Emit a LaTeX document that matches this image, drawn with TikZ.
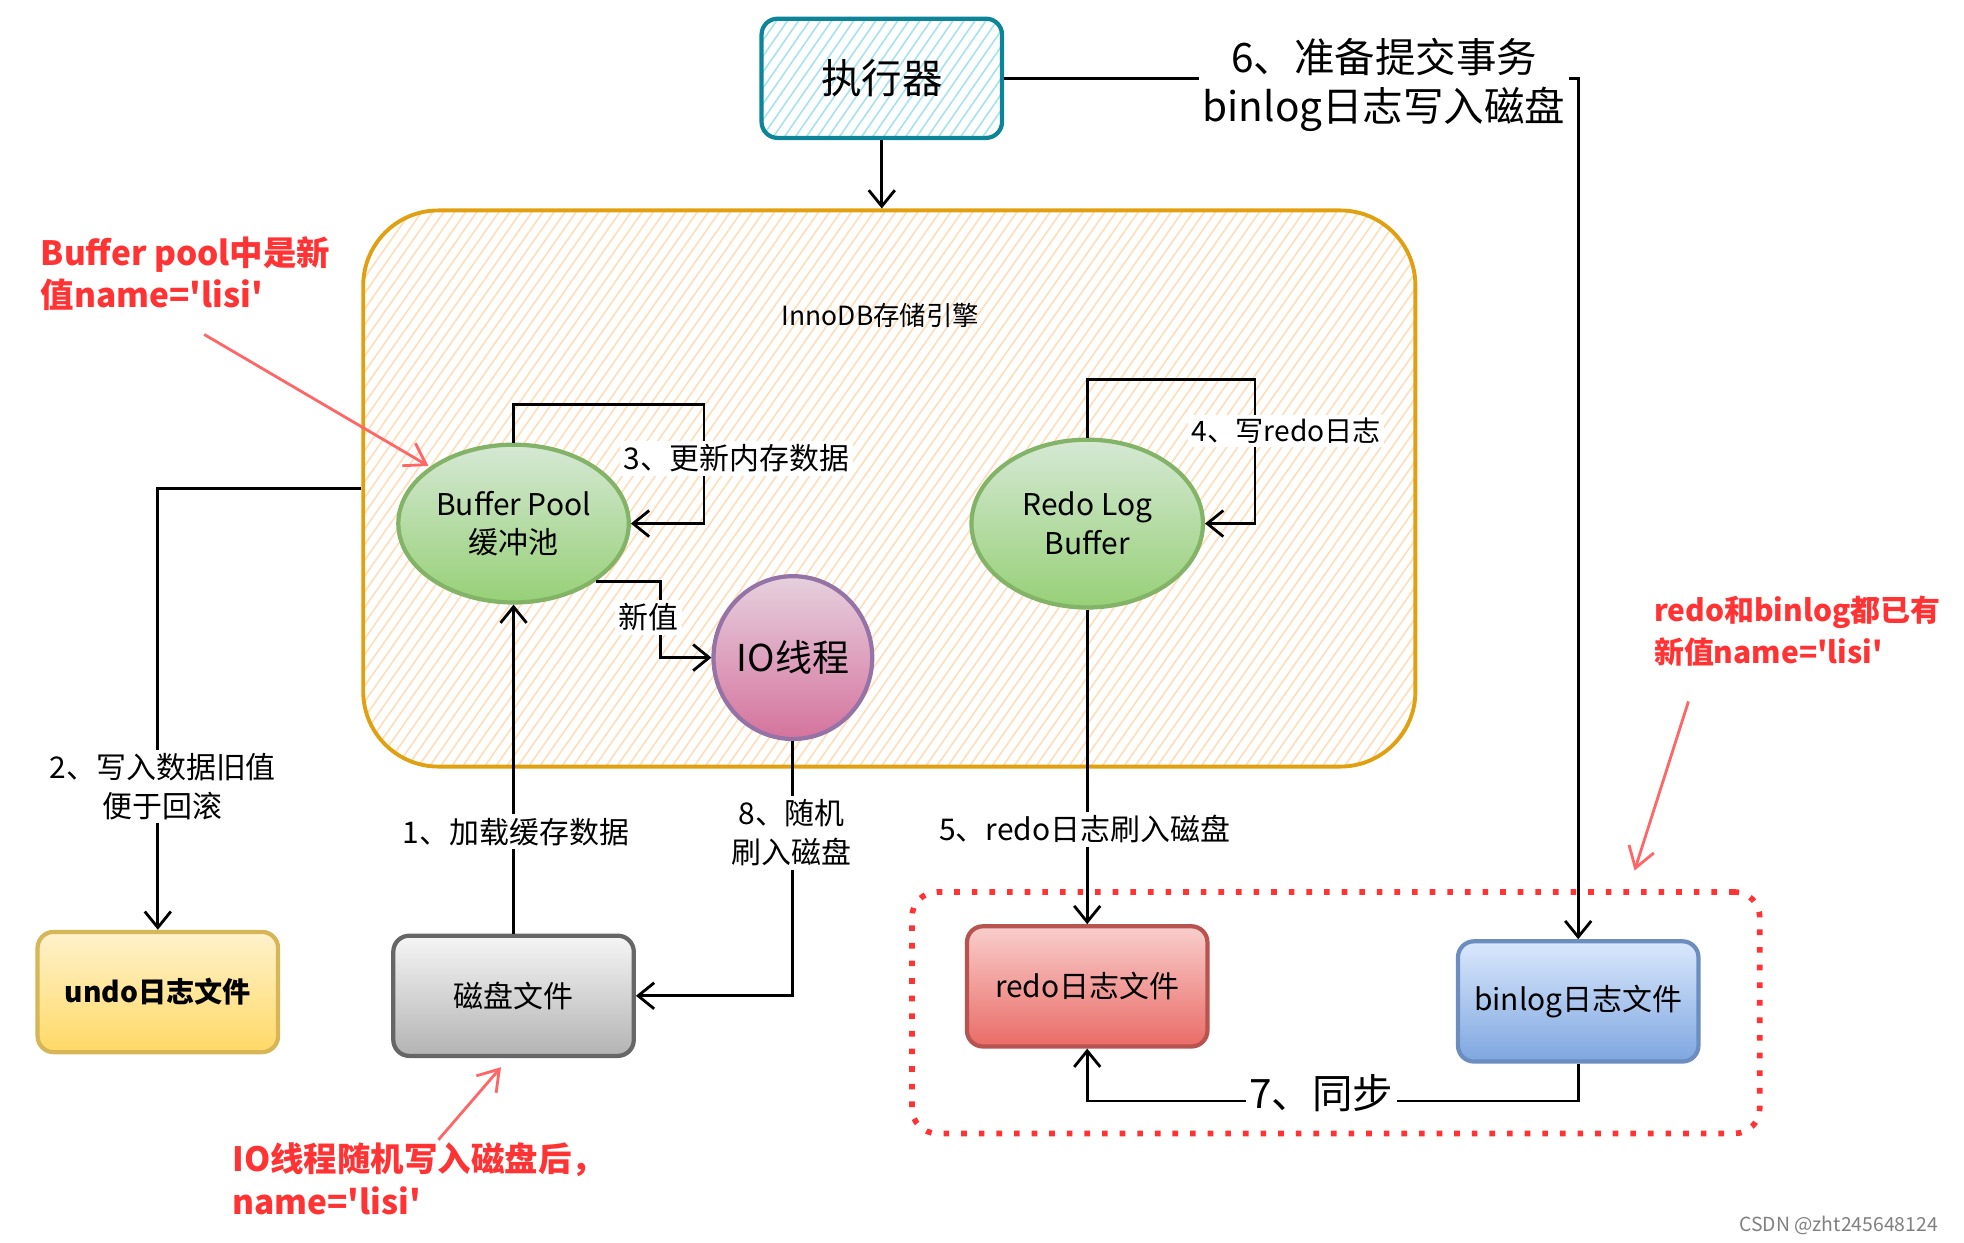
\documentclass[tikz,border=0pt]{standalone}
\usepackage{fontspec}
\setmainfont{Noto Sans CJK SC}
\newfontfamily\qfont{Noto Sans CJK SC}[Ligatures=TeXOff]
\usetikzlibrary{arrows.meta,calc,shapes.geometric}
\newcommand{\myfs}[2]{\fontsize{#1}{#2}\selectfont}
\newcommand{\sq}{{\qfont\char"27}}
\definecolor{teal1}{HTML}{0C8599}
\definecolor{hatchcyan}{HTML}{A5E3EC}
\definecolor{inborder}{HTML}{E0A010}
\definecolor{hatchor}{HTML}{FFDDB8}
\definecolor{grnT}{HTML}{D5E8D4}
\definecolor{grnB}{HTML}{97D077}
\definecolor{grnD}{HTML}{82B366}
\definecolor{pinkT}{HTML}{E6D0DE}
\definecolor{pinkB}{HTML}{D5739D}
\definecolor{pinkD}{HTML}{9673A6}
\definecolor{yelT}{HTML}{FFF2CC}
\definecolor{yelB}{HTML}{FFD966}
\definecolor{yelD}{HTML}{D6B656}
\definecolor{gryT}{HTML}{F5F5F5}
\definecolor{gryB}{HTML}{B3B3B3}
\definecolor{gryD}{HTML}{666666}
\definecolor{redT}{HTML}{F8CECC}
\definecolor{redB}{HTML}{EA6B66}
\definecolor{redD}{HTML}{B85450}
\definecolor{bluT}{HTML}{DAE8FC}
\definecolor{bluB}{HTML}{7EA6E0}
\definecolor{bluD}{HTML}{6C8EBF}
\definecolor{annot}{HTML}{FF3333}
\definecolor{annarr}{HTML}{FF6666}
\tikzset{
  box/.style={rectangle, rounded corners=1.6mm, minimum width=24mm, minimum height=12mm, line width=1.2pt, font=\myfs{8.5}{11}},
  ell/.style={ellipse, line width=1.2pt, font=\myfs{8.5}{11}, align=center, inner sep=0pt},
  con/.style={draw=black, line width=0.8pt},
  arr/.style={con, -{Straight Barb[length=1.6mm,width=2.6mm]}},
  lbl/.style={fill=white, inner sep=1pt, font=\myfs{8.5}{11}, align=center},
  ann/.style={text=annot, font=\bfseries\myfs{9.5}{12}, align=left, inner sep=0pt},
  annarrow/.style={draw=annarr, line width=0.8pt, -{Straight Barb[length=2mm,width=2.6mm]}},
  hatchexe/.style={path picture={\foreach \i in {-12,...,24} \draw[hatchcyan, line width=0.45pt] ($(path picture bounding box.south west)+(\i*1.1mm,0)$) -- ++(9mm,13mm);}},
  hatchinno/.style={path picture={\foreach \i in {-38,...,98} \draw[hatchor, line width=0.45pt] ($(path picture bounding box.south west)+(\i*1.1mm,0)$) -- ++(40mm,57mm);}}
}
\begin{document}
\begin{tikzpicture}[x=0.125mm,y=-0.125mm]
\useasboundingbox (0,0) rectangle (1568,992);

% containers
\node[draw=inborder, line width=1.1pt, rounded corners=7.5mm, minimum width=105mm, minimum height=55.5mm, hatchinno] (inno) at (710,390) {};
\node[font=\myfs{7.5}{9}] (innot) at (703,252) {InnoDB存储引擎};
\node[draw=annot, line width=1.6pt, dash pattern=on 1.6pt off 3.4pt, rounded corners=2.5mm, minimum width=84.6mm, minimum height=24.1mm] (grp) at (1066.5,808.5) {};

% nodes
\node[draw=teal1, line width=1.2pt, rounded corners=1.6mm, minimum width=24mm, minimum height=11.9mm, hatchexe, font=\myfs{11.5}{14}] (exe) at (704,62.5) {执行器};
\node[ell, top color=grnT, bottom color=grnB, draw=grnD, minimum width=23mm, minimum height=15.75mm] (bp) at (410,418) {Buffer Pool\\缓冲池};
\node[ell, top color=grnT, bottom color=grnB, draw=grnD, minimum width=23.1mm, minimum height=16.75mm] (rb) at (868,418) {Redo Log\\Buffer};
\node[ell, top color=pinkT, bottom color=pinkB, draw=pinkD, minimum width=15.4mm, minimum height=16.25mm, font=\myfs{10.5}{12}] (io) at (633,525) {IO线程};
\node[box, top color=yelT, bottom color=yelB, draw=yelD, font=\bfseries\myfs{8}{10}] (undo) at (126,792) {undo日志文件};
\node[box, top color=gryT, bottom color=gryB, draw=gryD] (disk) at (410,795) {磁盘文件};
\node[box, top color=redT, bottom color=redB, draw=redD] (redo) at (868,787.5) {redo日志文件};
\node[box, top color=bluT, bottom color=bluB, draw=bluD] (bin) at (1260,799.5) {binlog日志文件};

% connectors
\draw[arr] (exe.south) -- (exe.south |- inno.north);
\draw[arr] (exe.east) -| (bin.north);
\node[lbl, font=\myfs{11.5}{14}] (l6) at (1105,68) {6、准备提交事务\\binlog日志写入磁盘};

\draw[arr] (inno.west) -| (undo.north);
\node[lbl] (l2) at (130,628) {2、写入数据旧值\\便于回滚};

\coordinate (c3) at (562,323);
\draw[arr] (bp.north) |- (c3) |- (bp.east);
\node[lbl] (l3) at (588,366) {3、更新内存数据};

\coordinate (c4) at (1002,303);
\draw[arr] (rb.north) |- (c4) |- (rb.east);
\node[lbl, font=\myfs{8}{10}] (l4) at (1027,344) {4、写redo日志};

\coordinate (nv) at (527,494);
\draw[arr] (bp.-35) -| (nv) |- (io.west);
\node[lbl] (lnv) at (518,493) {新值};

\draw[arr] (disk.north) -- (bp.south);
\node[lbl] (l1) at (412,664) {1、加载缓存数据};

\draw[arr] (io.south) |- (disk.east);
\node[lbl] (l8) at (632,665) {8、随机\\刷入磁盘};

\draw[arr] (rb.south) -- (redo.north);
\node[lbl] (l5) at (866,662) {5、redo日志刷入磁盘};

\coordinate (c7) at (1060,879);
\draw[arr] (bin.south) |- (c7) -| (redo.south);
\node[lbl, font=\myfs{11.5}{14}] (l7) at (1055,873) {7、同步};

% annotations
\node[ann, anchor=north west] (a1) at (32,188) {Buffer pool中是新\\值name=\sq lisi\sq};
\coordinate (a1s) at (163,267);
\coordinate (a1e) at (342,372);
\draw[annarrow] (a1s) -- (a1e);

\node[ann, anchor=north west] (a2) at (185,912) {IO线程随机写入磁盘后，\\name=\sq lisi\sq};
\coordinate (a2s) at (350,910);
\coordinate (a2e) at (400,852);
\draw[annarrow] (a2s) -- (a2e);

\node[ann, anchor=north west, font=\bfseries\myfs{8.5}{12}] (a3) at (1320,475) {redo和binlog都已有\\新值name=\sq lisi\sq};
\coordinate (a3s) at (1348,560);
\coordinate (a3e) at (1305,695);
\draw[annarrow] (a3s) -- (a3e);

\node[anchor=east, text=gray, font=\myfs{5.5}{7}] (wm) at (1557,978) {CSDN @zht245648124};
\end{tikzpicture}
\end{document}
